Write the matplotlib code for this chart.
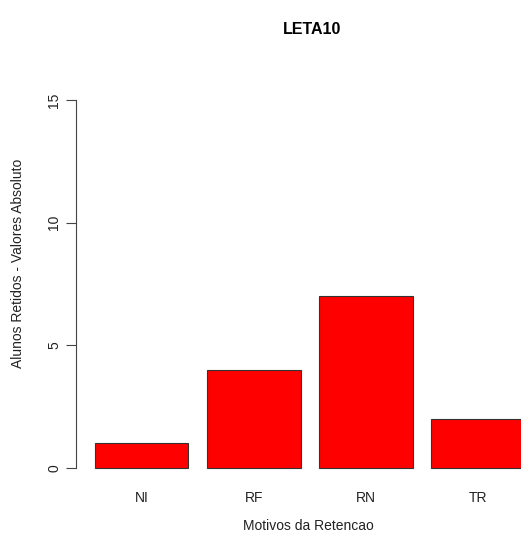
import matplotlib.pyplot as plt

categorias = ['NI', 'RF', 'RN', 'TR']
valores = [1, 4, 7, 2]
yticks = [0, 5, 10, 15]

plt.rcParams['font.family'] = ['Liberation Sans', 'DejaVu Sans']

fig = plt.figure(figsize=(5.21, 5.34), dpi=100)
ax = fig.add_axes([0.1466, 0.0961, 0.8534, 0.7442])

# estilo barplot do R: largura 1, espaco 0.2
posicoes = [0.2 + 1.2 * i + 0.5 for i in range(len(categorias))]
ax.bar(posicoes, valores, width=1.0, color='#ff0000', edgecolor='#333333', linewidth=0.8)

ax.set_xlim(0, 4.76)
ax.set_ylim(-0.6, 15.6)

for lado in ['top', 'right', 'bottom']:
    ax.spines[lado].set_visible(False)
ax.spines['left'].set_bounds(0, 15)
ax.spines['left'].set_color('#444444')
ax.spines['left'].set_linewidth(0.8)

ax.set_yticks(yticks)
ax.set_yticklabels([str(v) for v in yticks], rotation=90, va='center')
ax.tick_params(axis='y', length=7, width=0.8, color='#444444', pad=4, labelsize=10, labelcolor='#222222')

ax.set_xticks(posicoes)
ax.set_xticklabels(categorias)
ax.tick_params(axis='x', length=0, pad=6, labelsize=10, labelcolor='#222222')

fig.text(312 / 521, 1 - 30 / 534, 'LETA10', ha='center', va='center', fontsize=11.5, fontweight='bold')
fig.text(308 / 521, 1 - 526 / 534, 'Motivos da Retencao', ha='center', va='center', fontsize=10, color='#222222')
fig.text(18 / 521, 1 - 263 / 534, 'Alunos Retidos - Valores Absoluto', ha='center', va='center',
         rotation=90, fontsize=10, color='#222222')

fig.savefig('out.png', dpi=100)
